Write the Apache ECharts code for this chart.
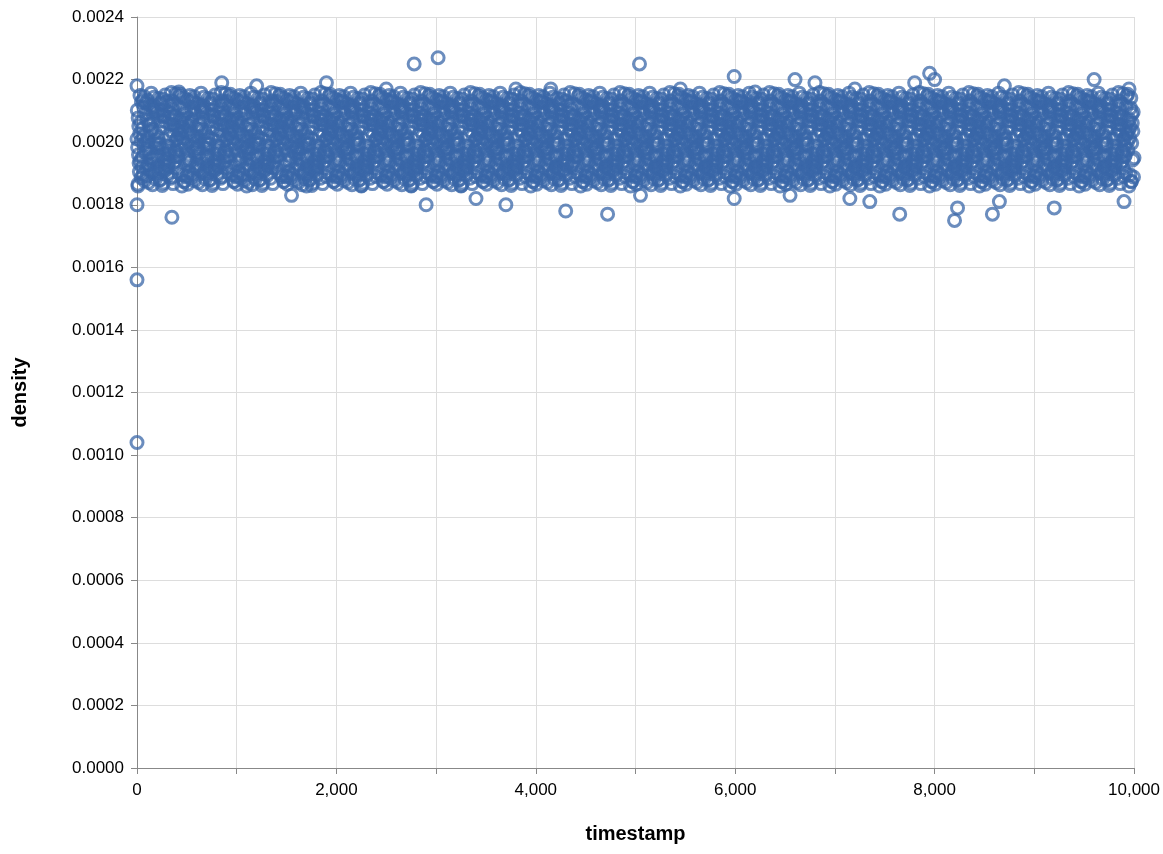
<!DOCTYPE html><html><head><meta charset="utf-8"><script src="https://cdn.jsdelivr.net/npm/echarts@6/dist/echarts.min.js"></script>
<style>body{margin:0}#c{width:1163px;height:854px}</style></head><body><div id="c"></div><script>
const bandRows = [
"5273849160372845619273048562917384052716394850271639485027163948502716394857261039482756103948275610394827561039482756103948275610394857261039482756103948275610394827561039485726103948275610394827561039",
"8316402957184630295718463029571846302957184630295718463029571846302957184630295718463092571846302957184630295718463029571846302957184630295718463029571846302957184630295718463029571846302957184630295718",
"4690281735946028173594602817359460281735946028173594602817359460281735946028173594602817359460281735946028173594602817359460281735946028173594602817359460281735946028173594602817359460281735946028173594",
"0957362841095736284109573628410957362841095736284109573628410957362841095736284109573628410957362841095736284109573628410957362841095736284109573628410957362841095736284109573628410957362841095736284109",
"7128594036712859403671285940367128594036712859403671285940367128594036712859403671285940367128594036712859403671285940367128594036712859403671285940367128594036712859403671285940367128594036712859403671",
"3541907268354190726835419072683541907268354190726835419072683541907268354190726835419072683541907268354190726835419072683541907268354190726835419072683541907268354190726835419072683541907268354190726835",
"6802473519680247351968024735196802473519680247351968024735196802473519680247351968024735196802473519680247351968024735196802473519680247351968024735196802473519680247351968024735196802473519680247351968",
"2469135780246913578024691357802469135780246913578024691357802469135780246913578024691357802469135780246913578024691357802469135780246913578024691357802469135780246913578024691357802469135780246913578024",
"1938472650193847265019384726501938472650193847265019384726501938472650193847265019384726501938472650193847265019384726501938472650193847265019384726501938472650193847265019384726501938472650193847265019",
"5061728394506172839450617283945061728394506172839450617283945061728394506172839450617283945061728394506172839450617283945061728394506172839450617283945061728394506172839450617283945061728394506172839450",
"9384016257938401625793840162579384016257938401625793840162579384016257938401625793840162579384016257938401625793840162579384016257938401625793840162579384016257938401625793840162579384016257938401625793",
"2715093846271509384627150938462715093846271509384627150938462715093846271509384627150938462715093846271509384627150938462715093846271509384627150938462715093846271509384627150938462715093846271509384627",
"6450817392645081739264508173926450817392645081739264508173926450817392645081739264508173926450817392645081739264508173926450817392645081739264508173926450817392645081739264508173926450817392645081739264",
"4827160935482716093548271609354827160935482716093548271609354827160935482716093548271609354827160935482716093548271609354827160935482716093548271609354827160935482716093548271609354827160935482716093548",
"0394825167039482516703948251670394825167039482516703948251670394825167039482516703948251670394825167039482516703948251670394825167039482516703948251670394825167039482516703948251670394825167039482516703",
"8172639450817263945081726394508172639450817263945081726394508172639450817263945081726394508172639450817263945081726394508172639450817263945081726394508172639450817263945081726394508172639450817263945081"
];
const outliers = [[0,0.00104],[0,0.00156],[0,0.0018],[10,0.00186],[350,0.00176],[2780,0.00225],[3020,0.00227],[5040,0.00225],[5990,0.00221],[7950,0.00222],[8000,0.0022],[8200,0.00175],[8230,0.00179],[8580,0.00177],[4300,0.00178],[4720,0.00177],[7650,0.00177],[9600,0.0022],[9200,0.00179],[9900,0.00181],[3700,0.0018],[2900,0.0018],[6600,0.0022],[850,0.00219],[0,0.00218],[1900,0.00219],[1200,0.00218],[2500,0.00217],[3800,0.00217],[4150,0.00217],[5450,0.00217],[6200,0.00216],[6800,0.00219],[7200,0.00217],[7800,0.00219],[8700,0.00218],[9950,0.00217],[3400,0.00182],[5990,0.00182],[6550,0.00183],[7150,0.00182],[7350,0.00181],[5050,0.00183],[1550,0.00183],[420,0.00216],[8650,0.00181]];
const xStep = 50, rowShift = 3, base = 0.00186, level = 0.00003, rowLift = 0.0000019;
const data = [];
bandRows.forEach((row, r) => { for (let i = 0; i < row.length; i++) { const x = i*xStep + r*rowShift; if (x <= 10000) data.push([x, base + (+row[i])*level + (r%16)*rowLift]); } });
outliers.forEach(p => data.push(p));
const ch = echarts.init(document.getElementById('c'));
const ax = {color:'#000',fontSize:17,fontFamily:'Liberation Sans, Arial'};
ch.setOption({
  animation:false,
  grid:{left:137,right:26,top:17,bottom:86,containLabel:false},
  xAxis:{type:'value',min:0,max:10000,interval:1000,name:'timestamp',nameLocation:'middle',nameGap:56,
    nameTextStyle:{fontSize:20,fontWeight:'bold',color:'#000',fontFamily:'Liberation Sans, Arial'},
    axisLine:{lineStyle:{color:'#888'}},axisTick:{show:true,length:6,lineStyle:{color:'#888'}},
    axisLabel:Object.assign({margin:14,formatter:v=>v%2000===0?v.toLocaleString('en-US'):''},ax),
    splitLine:{lineStyle:{color:'#ddd'}}},
  yAxis:{type:'value',min:0,max:0.0024,interval:0.0002,name:'density',nameLocation:'middle',nameGap:107,
    nameTextStyle:{fontSize:20,fontWeight:'bold',color:'#000',fontFamily:'Liberation Sans, Arial'},
    axisLine:{show:true,lineStyle:{color:'#888'}},axisTick:{show:true,length:6,lineStyle:{color:'#888'}},
    axisLabel:Object.assign({margin:13,formatter:v=>v.toFixed(4)},ax),
    splitLine:{lineStyle:{color:'#ddd'}}},
  series:[{type:'scatter',data:data,symbol:'circle',symbolSize:12,large:false,
    itemStyle:{color:'rgba(0,0,0,0)',borderColor:'#3a67a8',borderWidth:3,opacity:0.75}}]
});
</script></body></html>
